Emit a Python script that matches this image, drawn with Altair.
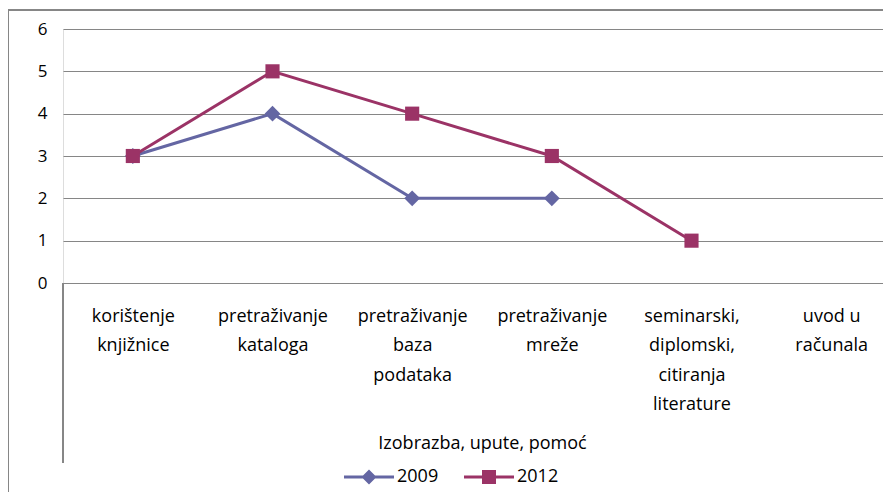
import altair as alt
import pandas as pd

categories = [
    "korištenje\nknjižnice",
    "pretraživanje\nkataloga",
    "pretraživanje\nbaza\npodataka",
    "pretraživanje\nmreže",
    "seminarski,\ndiplomski,\ncitiranja\nliterature",
    "uvod u\nračunala",
]
series_names = ["2009", "2012"]
values_2009 = [3, 4, 2, 2, None, None]
values_2012 = [3, 5, 4, 3, 1, None]
y_ticks = [0, 1, 2, 3, 4, 5, 6]
colors = ["#6466A3", "#9B3366"]
marker_shapes = ["diamond", "square"]
marker_sizes = [250, 200]

rows = []
for name, vals in zip(series_names, [values_2009, values_2012]):
    for c, v in zip(categories, vals):
        if v is not None:
            rows.append({"kategorija": c, "godina": name, "vrijednost": v})
df = pd.DataFrame(rows)

FONT = "Open Sans"
TXT = 18

x_enc = alt.X(
    "kategorija:N",
    sort=categories,
    scale=alt.Scale(domain=categories, type="point", padding=0.5),
    axis=alt.Axis(
        title="Izobrazba, upute, pomoć",
        labelExpr="split(datum.label, '\\n')",
        labelAngle=0,
        labelFontSize=TXT,
        labelLineHeight=29.5,
        labelPadding=24,
        labelColor="#000000",
        labelFont=FONT,
        labelBaseline="top",
        ticks=False,
        domain=True,
        domainColor="#868686",
        domainWidth=1,
        grid=False,
        titleFont=FONT,
        titleFontSize=TXT,
        titleFontWeight="normal",
        titleColor="#000000",
        titlePadding=21,
    ),
)
y_enc = alt.Y(
    "vrijednost:Q",
    scale=alt.Scale(domain=[0, 6], nice=False, zero=True),
    axis=alt.Axis(
        title=None,
        values=y_ticks,
        grid=True,
        gridColor="#868686",
        gridWidth=1,
        domain=False,
        ticks=False,
        labelFontSize=17,
        labelFont=FONT,
        labelColor="#000000",
        labelPadding=16,
    ),
)
color_scale = alt.Scale(domain=series_names, range=colors)

path_2009 = "M-1,-0.06L1,-0.06L1,0.06L-1,0.06Z M0,-0.3L0.3,0L0,0.3L-0.3,0Z"
path_2012 = "M-1,-0.06L1,-0.06L1,0.06L-1,0.06Z M-0.28,-0.28L0.28,-0.28L0.28,0.28L-0.28,0.28Z"
legend_shape_expr = "datum.label === '2009' ? '" + path_2009 + "' : '" + path_2012 + "'"

legend = alt.Legend(
    title=None,
    orient="none",
    direction="horizontal",
    legendX=281,
    legendY=423,
    symbolSize=2500,
    symbolStrokeWidth=0,
    symbolType=alt.ExprRef(expr=legend_shape_expr),
    labelFontSize=TXT,
    labelFont=FONT,
    labelColor="#000000",
    labelOffset=3,
    columnPadding=25,
)

color_enc = alt.Color("godina:N", scale=color_scale, legend=legend)

lines = alt.Chart(df).mark_line(strokeWidth=3).encode(
    x=x_enc, y=y_enc, color=color_enc, detail="godina:N"
)

point_layers = []
for name, shp, sz in zip(series_names, marker_shapes, marker_sizes):
    point_layers.append(
        alt.Chart(df)
        .transform_filter(alt.datum.godina == name)
        .mark_point(filled=True, opacity=1, shape=shp, size=sz)
        .encode(x=x_enc, y=y_enc, color=color_enc)
    )

# chart-area border and category-axis box line
frame_top = alt.Chart(df).mark_rule(color="#868686", strokeWidth=1).encode(
    x=alt.value(-55), x2=alt.value(840), y=alt.value(-19)
)
frame_left = alt.Chart(df).mark_rule(color="#868686", strokeWidth=1).encode(
    x=alt.value(-55), y=alt.value(-19), y2=alt.value(480)
)
axis_box = alt.Chart(df).mark_rule(color="#868686", strokeWidth=1).encode(
    x=alt.value(0), y=alt.value(254), y2=alt.value(434)
)

chart = (
    alt.layer(frame_top, frame_left, axis_box, lines, *point_layers)
    .properties(
        width=838,
        height=254,
        autosize=alt.AutoSizeParams(type="none"),
        padding={"left": 55, "top": 21, "right": -18, "bottom": 209},
    )
    .configure_view(stroke=None)
    .configure(background="#ffffff")
)

chart.save("out.html", embed_options={"renderer": "svg", "actions": False})
